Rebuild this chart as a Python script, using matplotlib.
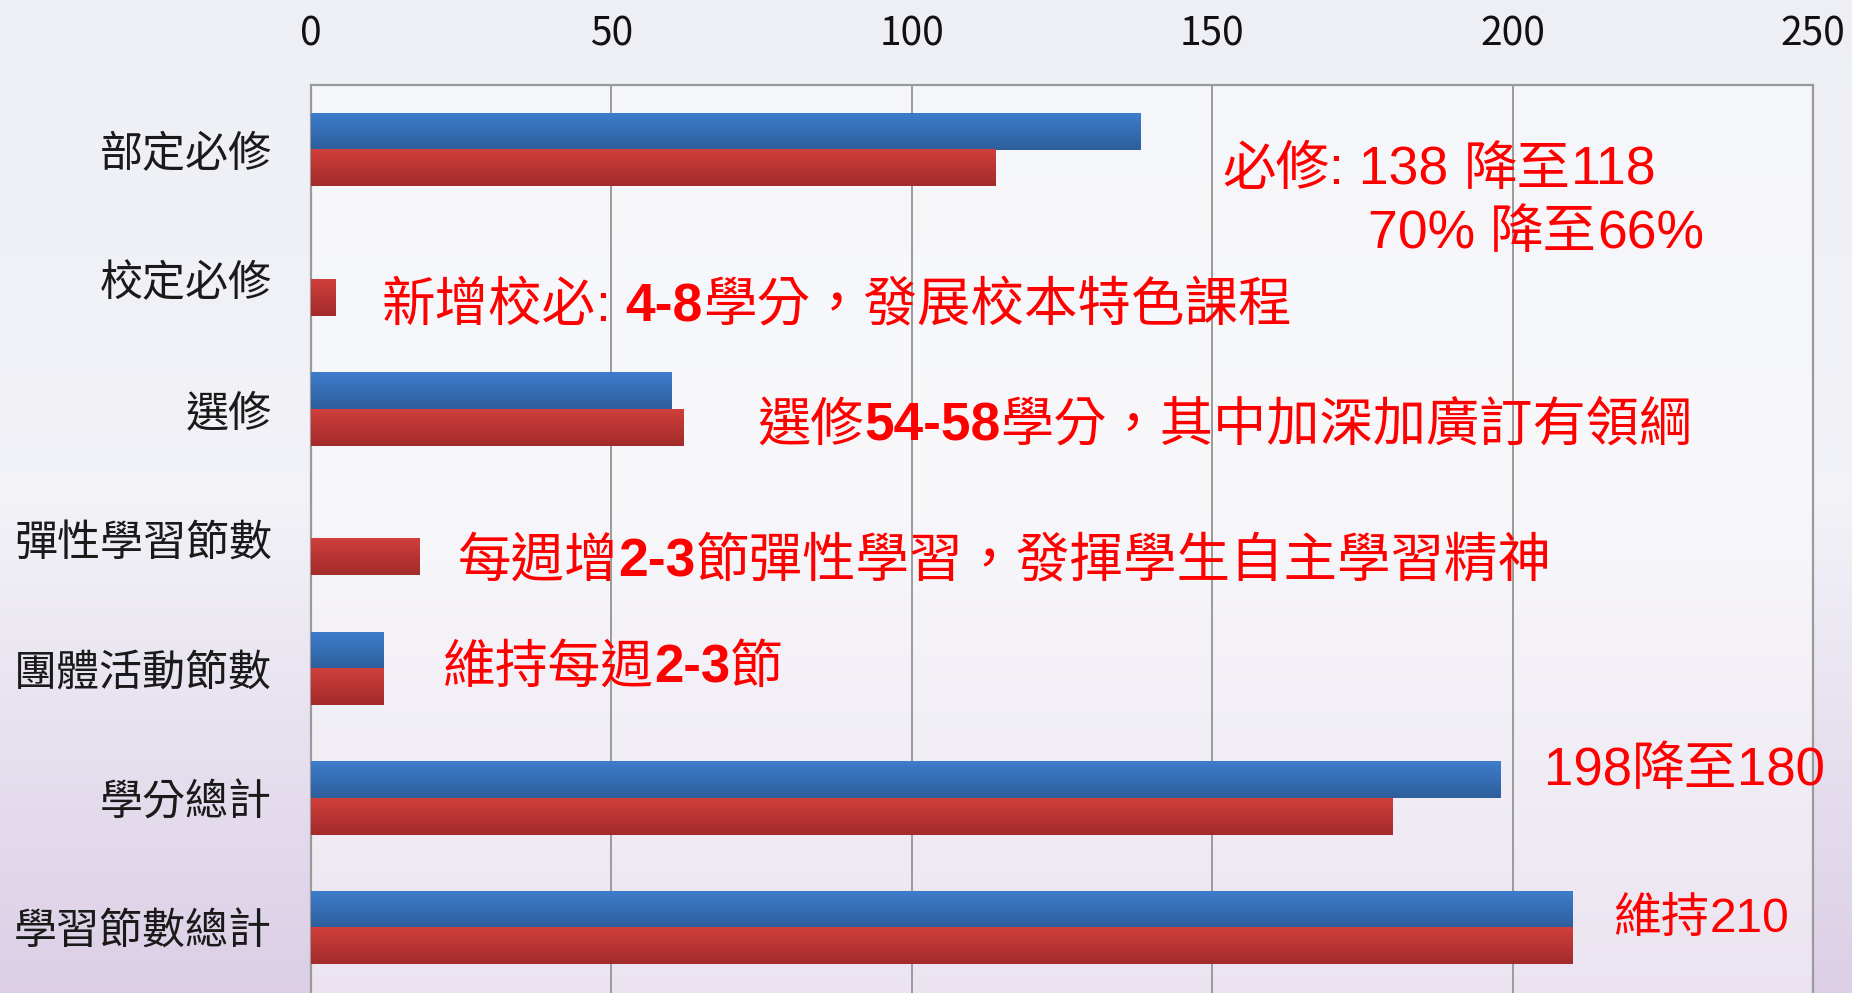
import numpy as np
import matplotlib
matplotlib.use('Agg')
import matplotlib.pyplot as plt
from matplotlib.colors import LinearSegmentedColormap
from matplotlib.font_manager import FontProperties
import matplotlib.transforms as mtransforms

# ---------------- data ----------------
categories = ['部定必修', '校定必修', '選修', '彈性學習節數', '團體活動節數', '學分總計', '學習節數總計']
old_values = [138, 0, 60, 0, 12, 198, 210]   # blue bars
new_values = [114, 4, 62, 18, 12, 180, 210]  # red bars
xticks = [0, 50, 100, 150, 200, 250]

# annotation texts: (x, baseline y, fontsize, segments)  style: c=CJK, n=number, b=bold number
notes = [
    (151.7, 0.27, 38.5, [('必修', 'c'), (': 138 ', 'n'), ('降至', 'c'), ('118', 'n')]),
    (175.9, 0.76, 38.5, [('70% ', 'n'), ('降至', 'c'), ('66%', 'n')]),
    (11.8, 1.32, 38.5, [('新增校必', 'c'), (': ', 'n'), ('4-8', 'b'), ('學分，發展校本特色課程', 'c')]),
    (74.3, 2.24, 38.3, [('選修', 'c'), ('54-58', 'b'), ('學分，其中加深加廣訂有領綱', 'c')]),
    (24.4, 3.29, 38.5, [('每週增', 'c'), ('2-3', 'b'), ('節彈性學習，發揮學生自主學習精神', 'c')]),
    (22.0, 4.11, 38.0, [('維持每週', 'c'), ('2-3', 'b'), ('節', 'c')]),
    (205.2, 4.90, 38.0, [('198', 'n'), ('降至', 'c'), ('180', 'n')]),
    (216.8, 6.03, 34.5, [('維持', 'c'), ('210', 'n')]),
]

CJK = 'Noto Sans CJK TC'
LAT = 'Liberation Sans'
DPI = 100

fig = plt.figure(figsize=(18.52, 9.93), dpi=DPI)

# background gradient
bg = fig.add_axes([0, 0, 1, 1], zorder=-10)
top_c = np.array([0.93, 0.94, 0.96])
mid_c = np.array([0.95, 0.95, 0.97])
bot_c = np.array([0.86, 0.81, 0.90])
t = np.linspace(0, 1, 200)[:, None]
col = np.where(t < 0.5, top_c + (mid_c - top_c) * (t / 0.5), mid_c + (bot_c - mid_c) * ((t - 0.5) / 0.5))
img = np.repeat(col[:, None, :], 2, axis=1)
bg.imshow(img, aspect='auto', extent=(0, 1, 0, 1), origin='upper', interpolation='bilinear')
bg.set_axis_off()

ax = fig.add_axes([311 / 1852, 0.0, 1502 / 1852, 908 / 993])
ax.set_facecolor((1, 1, 1, 0.45))

n = len(categories)
y = np.arange(n)
h = 0.28
blue_bars = ax.barh(y - h / 2, old_values, height=h, color='#3670b8', zorder=3)
red_bars = ax.barh(y + h / 2, new_values, height=h, color='#bf3735', zorder=3)


def grad_fill(patch, c_top, c_bot):
    x0, w = patch.get_x(), patch.get_width()
    y0, hh = patch.get_y(), patch.get_height()
    if w <= 0:
        return
    cmap = LinearSegmentedColormap.from_list('g', [c_top, c_bot])
    g = np.linspace(0, 1, 64).reshape(-1, 1)
    ax.imshow(g, cmap=cmap, aspect='auto', extent=(x0, x0 + w, y0 + hh, y0),
              origin='upper', zorder=4, interpolation='bilinear')


for p in blue_bars:
    grad_fill(p, '#3d7dcc', '#2e5e9c')
for p in red_bars:
    grad_fill(p, '#d03f3b', '#a22b2b')

ax.set_xlim(0, 250)
ax.set_ylim(n - 0.5, -0.5)
ax.set_autoscale_on(False)

ax.xaxis.tick_top()
ax.set_xticks(xticks)
ax.set_xticklabels([str(v) for v in xticks], fontfamily=CJK, fontsize=28, color='#111111')
ax.set_yticks(y)
ax.set_yticklabels(categories, fontfamily=CJK, fontsize=31, color='#1a1a1a')
ax.tick_params(axis='x', length=0, pad=22)
ax.tick_params(axis='y', length=0, pad=28)
ax.xaxis.grid(True, color='#9a9a9a', linewidth=1.4, zorder=1)
ax.set_axisbelow(True)
for s in ['top', 'left', 'right']:
    ax.spines[s].set_color('#9a9a9a')
    ax.spines[s].set_linewidth(1.6)
ax.spines['bottom'].set_visible(False)

# rich text annotations
renderer = fig.canvas.get_renderer()


def seg_width_pts(s, prop):
    w1, _, _ = renderer.get_text_width_height_descent('|' + s + '|', prop, ismath=False)
    w0, _, _ = renderer.get_text_width_height_descent('||', prop, ismath=False)
    return (w1 - w0) * 72.0 / DPI


for x0, yb, size, segs in notes:
    off = 0.0
    for s, style in segs:
        if style == 'c':
            prop = FontProperties(family=[CJK], size=size)
        elif style == 'b':
            prop = FontProperties(family=[LAT], size=size, weight='bold')
        else:
            prop = FontProperties(family=[LAT], size=size)
        tr = mtransforms.offset_copy(ax.transData, fig=fig, x=off, y=0, units='points')
        ax.text(x0, yb, s, fontproperties=prop, color='#ff0000', ha='left', va='baseline',
                transform=tr, zorder=6, clip_on=False)
        off += seg_width_pts(s, prop)

fig.savefig('out.png', dpi=DPI)
